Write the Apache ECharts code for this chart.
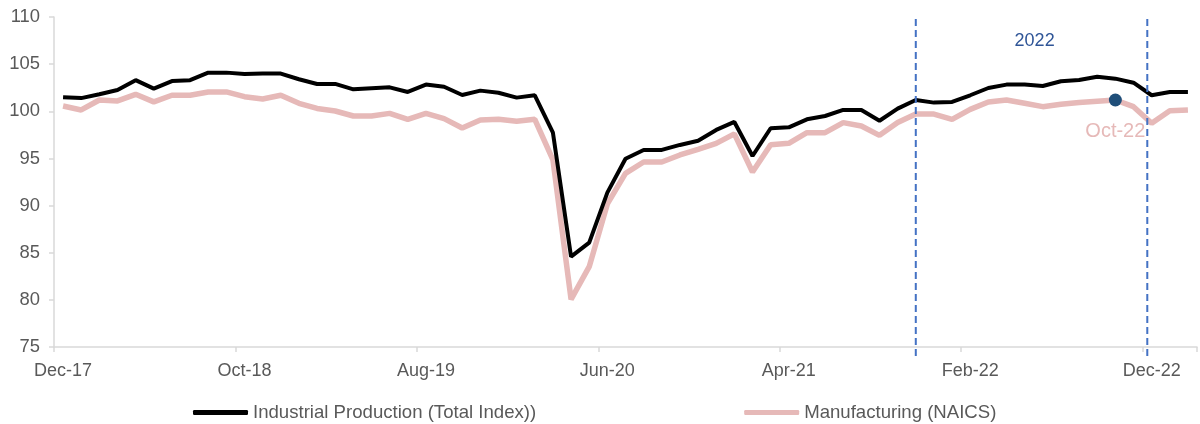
<!DOCTYPE html>
<html>
<head>
<meta charset="utf-8">
<script src="https://cdn.jsdelivr.net/npm/echarts@6/dist/echarts.min.js"></script>
<style>html,body{margin:0;padding:0;background:#fff;}#c{width:1200px;height:424px;}</style>
</head>
<body>
<div id="c"></div>
<script>
const months = ['Dec-17',
 'Jan-18','Feb-18','Mar-18','Apr-18','May-18','Jun-18','Jul-18','Aug-18','Sep-18','Oct-18','Nov-18','Dec-18',
 'Jan-19','Feb-19','Mar-19','Apr-19','May-19','Jun-19','Jul-19','Aug-19','Sep-19','Oct-19','Nov-19','Dec-19',
 'Jan-20','Feb-20','Mar-20','Apr-20','May-20','Jun-20','Jul-20','Aug-20','Sep-20','Oct-20','Nov-20','Dec-20',
 'Jan-21','Feb-21','Mar-21','Apr-21','May-21','Jun-21','Jul-21','Aug-21','Sep-21','Oct-21','Nov-21','Dec-21',
 'Jan-22','Feb-22','Mar-22','Apr-22','May-22','Jun-22','Jul-22','Aug-22','Sep-22','Oct-22','Nov-22','Dec-22',
 'Jan-23','Feb-23'];

const industrial = [101.5,101.4,101.8,102.26,103.3,102.4,103.2,103.3,104.1,104.1,
 103.95,104.0,104.0,103.4,102.9,102.9,102.33,102.44,102.54,102.05,
 102.83,102.6,101.73,102.19,101.97,101.45,101.7,97.73,84.58,86.07,
 91.37,94.97,95.9,95.9,96.43,96.88,98.02,98.87,95.26,98.2,
 98.3,99.15,99.5,100.14,100.14,99.0,100.28,101.2,100.92,100.99,
 101.7,102.47,102.83,102.83,102.68,103.18,103.32,103.67,103.46,103.03,
 101.7,102.05,102.05];

const manufacturing = [100.56,100.14,101.2,101.1,101.8,101.0,101.7,101.7,102.05,102.05,
 101.55,101.3,101.7,100.85,100.3,100.03,99.5,99.5,99.78,99.15,
 99.78,99.22,98.23,99.08,99.15,98.94,99.15,94.84,80.06,83.52,
 90.17,93.42,94.62,94.62,95.37,95.97,96.6,97.6,93.56,96.46,
 96.6,97.73,97.73,98.8,98.44,97.45,98.8,99.71,99.71,99.15,
 100.2,100.99,101.2,100.85,100.49,100.74,100.92,101.06,101.2,100.49,
 98.73,100.06,100.14];

const seriesNames = ['Industrial Production (Total Index))', 'Manufacturing (NAICS)'];
const yMin = 75, yMax = 110, yStep = 5;
const periodLines = [47, 59.76];        // positions (in month index units) of the dashed markers
const periodLabel = { text: '2022', x: 53.55, y: 107.5 };
const highlightMonth = 'Oct-22';

const font = "'Liberation Sans', Arial, sans-serif";
const hiIdx = months.indexOf(highlightMonth);

const chart = echarts.init(document.getElementById('c'), null, { renderer: 'canvas' });
chart.setOption({
  animation: false,
  textStyle: { fontFamily: font },
  grid: { left: 54, right: 3, top: 17, bottom: 77, containLabel: false },
  legend: {
    left: 188, top: 398,
    itemWidth: 55, itemHeight: 5, itemGap: 208,
    textStyle: { fontSize: 18.6, color: '#595959', fontFamily: font },
    data: [
      { name: seriesNames[0], icon: 'roundRect', itemStyle: { color: '#000000' } },
      { name: seriesNames[1], icon: 'roundRect', itemStyle: { color: '#E6B9B8' } }
    ]
  },
  xAxis: [{
    type: 'category',
    data: months,
    boundaryGap: true,
    axisLine: { lineStyle: { color: '#D9D9D9', width: 1.5 } },
    axisTick: { show: true, interval: 9, length: 5, lineStyle: { color: '#D9D9D9', width: 1.5 } },
    axisLabel: { interval: 9, fontSize: 18, color: '#595959', margin: 15, fontFamily: font },
    splitLine: { show: false }
  }, {
    type: 'value', min: -0.5, max: months.length - 0.5, show: false
  }],
  yAxis: {
    type: 'value', min: yMin, max: yMax, interval: yStep,
    axisLine: { show: true, onZero: false, lineStyle: { color: '#D9D9D9', width: 1.5 } },
    axisTick: { show: true, length: 5, lineStyle: { color: '#D9D9D9', width: 1.5 } },
    axisLabel: { fontSize: 18.4, color: '#595959', margin: 14, fontFamily: font },
    splitLine: { show: false }
  },
  series: [
    {
      name: seriesNames[1], type: 'line', data: manufacturing,
      symbol: 'none', lineStyle: { color: '#E6B9B8', width: 5.5 }, itemStyle: { color: '#E6B9B8' }, z: 2
    },
    {
      name: seriesNames[0], type: 'line', data: industrial,
      symbol: 'none', lineStyle: { color: '#000000', width: 4 }, itemStyle: { color: '#000000' }, z: 3
    },
    {
      name: 'highlight', type: 'scatter', z: 5,
      data: [[hiIdx, manufacturing[hiIdx]]],
      symbolSize: 13, itemStyle: { color: '#1F4E79', opacity: 1 },
      label: { show: true, position: 'bottom', distance: 15, formatter: highlightMonth,
               fontSize: 20, color: '#E6B9B8', fontFamily: font }
    },
    {
      name: 'periods', type: 'custom', xAxisIndex: 1, yAxisIndex: 0, z: 4, clip: false,
      data: periodLines.map(v => [v, yMax]),
      renderItem: function (params, api) {
        const x = api.value(0);
        const top = api.coord([x, yMax]);
        const bot = api.coord([x, yMin]);
        return { type: 'line', shape: { x1: top[0], y1: top[1] + 2, x2: bot[0], y2: bot[1] + 9 },
                 style: { stroke: '#4472C4', lineWidth: 2, lineDash: [7, 4] } };
      }
    },
    {
      name: 'periodLabel', type: 'custom', xAxisIndex: 1, yAxisIndex: 0, z: 4, clip: false,
      data: [[periodLabel.x, periodLabel.y]],
      renderItem: function (params, api) {
        const p = api.coord([api.value(0), api.value(1)]);
        return { type: 'text', x: p[0], y: p[1],
                 style: { text: periodLabel.text, align: 'center', verticalAlign: 'middle',
                          fill: '#2F5597', font: '18px ' + font } };
      }
    }
  ]
});
</script>
</body>
</html>
